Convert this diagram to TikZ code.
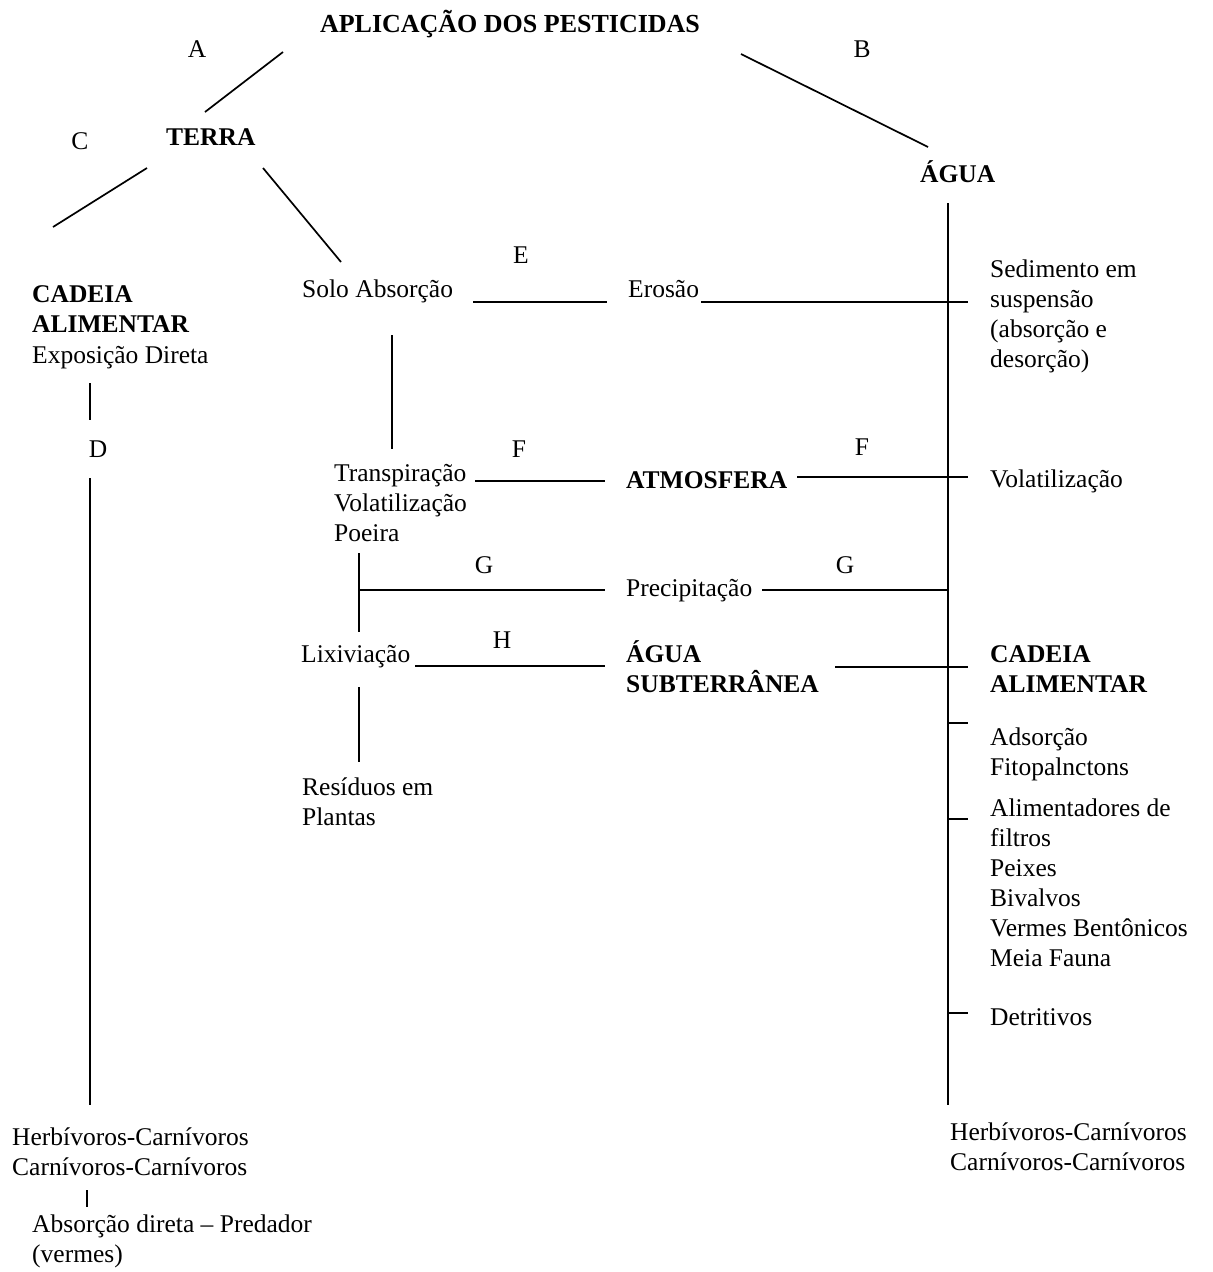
\documentclass[tikz,border=0pt]{standalone}
\usepackage{fontspec}
\setmainfont{Liberation Serif}
\begin{document}
\begin{tikzpicture}[x=1pt,y=-1pt,
  every node/.style={inner sep=0pt, font=\fontsize{25.5}{30}\selectfont},
  txt/.style={anchor=base west, align=left},
  btxt/.style={txt, font=\fontsize{25.5}{30}\selectfont\bfseries},
  lbl/.style={anchor=base},
  ln/.style={line width=1.7pt}]
\useasboundingbox (0,0) rectangle (1213,1272);
% ---------- texts (multi-line nodes: base = last line) ----------
\node[lbl, font=\fontsize{26}{30}\selectfont\bfseries] (title) at (510,32) {APLICAÇÃO DOS PESTICIDAS};
\node[lbl] (lA) at (197,57) {A};
\node[lbl] (lB) at (862,57) {B};
\node[lbl] (lC) at (80,149) {C};
\node[btxt] (terra) at (166,145) {TERRA};
\node[btxt] (agua) at (920,182) {ÁGUA};
\node[btxt] (cadL) at (32,332) {CADEIA\\ALIMENTAR};
\node[txt] (expo) at (32,363) {Exposição Direta};
\node[lbl] (lD) at (98,457) {D};
\node[txt] (herbL) at (12,1175) {Herbívoros-Carnívoros\\Carnívoros-Carnívoros};
\node[txt] (absL) at (32,1262) {Absorção direta – Predador\\(vermes)};
\node[lbl] (lE) at (521,263) {E};
\node[txt] (solo) at (302,297) {Solo Absorção};
\node[txt] (erosao) at (628,297) {Erosão};
\node[txt] (sed) at (990,367) {Sedimento em\\suspensão\\(absorção e\\desorção)};
\node[lbl] (lF1) at (519,457) {F};
\node[lbl] (lF2) at (862,455) {F};
\node[txt] (transp) at (334,541) {Transpiração\\Volatilização\\Poeira};
\node[btxt] (atmos) at (626,488) {ATMOSFERA};
\node[txt] (volR) at (990,487) {Volatilização};
\node[lbl] (lG1) at (484,573) {G};
\node[lbl] (lG2) at (845,573) {G};
\node[txt] (precip) at (626,596) {Precipitação};
\node[lbl] (lH) at (502,648) {H};
\node[txt] (lixi) at (301,662) {Lixiviação};
\node[btxt] (aguasub) at (626,692) {ÁGUA\\SUBTERRÂNEA};
\node[btxt] (cadR) at (990,692) {CADEIA\\ALIMENTAR};
\node[txt] (resid) at (302,825) {Resíduos em\\Plantas};
\node[txt] (adsor) at (990,775) {Adsorção\\Fitopalnctons};
\node[txt] (alim) at (990,966) {Alimentadores de\\filtros\\Peixes\\Bivalvos\\Vermes Bentônicos\\Meia Fauna};
\node[txt] (detri) at (990,1025) {Detritivos};
\node[txt] (herbR) at (950,1170) {Herbívoros-Carnívoros\\Carnívoros-Carnívoros};
% ---------- coordinates ----------
\coordinate (a1) at (283,52);   \coordinate (a2) at (205,112);
\coordinate (b1) at (741,54);   \coordinate (b2) at (928,147);
\coordinate (c1) at (147,168);  \coordinate (c2) at (53,227);
\coordinate (t1) at (263,168);  \coordinate (t2) at (341,262);
\coordinate (e1) at (473,302);  \coordinate (e2) at (607,302);
\coordinate (e3) at (701,302);  \coordinate (e4) at (968,302);
\coordinate (s1) at (392,335);  \coordinate (s2) at (392,449);
\coordinate (f1) at (475,481);  \coordinate (f2) at (605,481);
\coordinate (f3) at (797,477);  \coordinate (f4) at (968,477);
\coordinate (v1) at (359,553);  \coordinate (v2) at (359,632);
\coordinate (v3) at (359,687);  \coordinate (v4) at (359,762);
\coordinate (g1) at (359,590);  \coordinate (g2) at (605,590);
\coordinate (g3) at (762,590);  \coordinate (g4) at (948,590);
\coordinate (h1) at (415,666);  \coordinate (h2) at (605,666);
\coordinate (h3) at (835,667);  \coordinate (h4) at (968,667);
\coordinate (r1) at (948,203);  \coordinate (r2) at (948,1105);
\coordinate (k1) at (948,723);  \coordinate (k1e) at (968,723);
\coordinate (k2) at (948,819);  \coordinate (k2e) at (968,819);
\coordinate (k3) at (948,1013); \coordinate (k3e) at (968,1013);
\coordinate (d1) at (90,383);   \coordinate (d2) at (90,420);
\coordinate (d3) at (90,478);   \coordinate (d4) at (90,1105);
\coordinate (p1) at (87,1190);  \coordinate (p2) at (87,1207);
% ---------- connectors ----------
\draw[ln] (a1) -- (a2);
\draw[ln] (b1) -- (b2);
\draw[ln] (c1) -- (c2);
\draw[ln] (t1) -- (t2);
\draw[ln] (e1) -- (e2);
\draw[ln] (e3) -- (e4);
\draw[ln] (s1) -- (s2);
\draw[ln] (f1) -- (f2);
\draw[ln] (f3) -- (f4);
\draw[ln] (v1) -- (v2);
\draw[ln] (v3) -- (v4);
\draw[ln] (g1) -- (g2);
\draw[ln] (g3) -- (g4);
\draw[ln] (h1) -- (h2);
\draw[ln] (h3) -- (h4);
\draw[ln] (r1) -- (r2);
\draw[ln] (k1) -- (k1e);
\draw[ln] (k2) -- (k2e);
\draw[ln] (k3) -- (k3e);
\draw[ln] (d1) -- (d2);
\draw[ln] (d3) -- (d4);
\draw[ln] (p1) -- (p2);
\end{tikzpicture}
\end{document}
